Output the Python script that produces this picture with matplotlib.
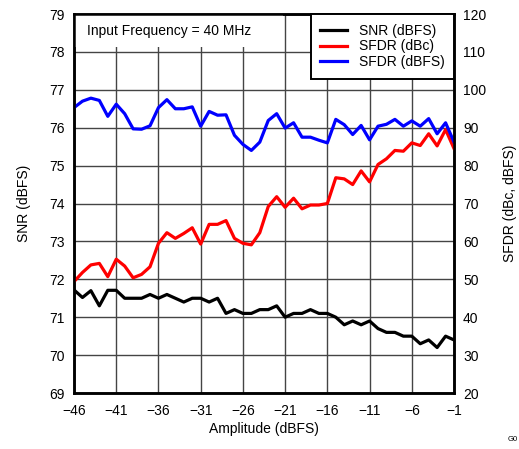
import matplotlib.pyplot as plt
from matplotlib.patches import Rectangle

plt.rcParams['font.family'] = ['Liberation Sans', 'DejaVu Sans']

amplitude = list(range(-46, 0))

snr_dbfs = [71.72, 71.52, 71.70, 71.3, 71.71, 71.71, 71.5, 71.5, 71.5, 71.6,
            71.5, 71.6, 71.5, 71.4, 71.5, 71.5, 71.4, 71.5, 71.1, 71.2,
            71.1, 71.1, 71.2, 71.2, 71.3, 71.0, 71.1, 71.1, 71.2, 71.1,
            71.1, 71.0, 70.8, 70.9, 70.8, 70.9, 70.7, 70.6, 70.6, 70.5,
            70.5, 70.3, 70.4, 70.2, 70.5, 70.4]

sfdr_dbc = [49.4, 51.8, 53.8, 54.2, 50.7, 55.3, 53.5, 50.4, 51.3, 53.3,
            59.5, 62.3, 60.8, 62.1, 63.6, 59.3, 64.5, 64.5, 65.5, 60.8,
            59.5, 59.1, 62.3, 69.2, 71.8, 69.0, 71.4, 68.6, 69.6, 69.6,
            70.0, 76.8, 76.5, 75.0, 78.6, 75.7, 80.3, 81.8, 84.0, 83.8,
            86.0, 85.3, 88.4, 85.2, 89.5, 84.5]

sfdr_dbfs = [95.3, 97.0, 97.8, 97.2, 93.0, 96.2, 93.7, 89.7, 89.6, 90.5,
             95.3, 97.4, 95.0, 95.0, 95.5, 90.4, 94.3, 93.3, 93.4, 88.0,
             85.6, 84.0, 86.2, 91.9, 93.7, 89.9, 91.3, 87.5, 87.5, 86.7,
             86.0, 92.2, 90.8, 88.2, 90.6, 86.8, 90.4, 90.9, 92.2, 90.4,
             91.8, 90.4, 92.4, 88.4, 91.3, 86.2]

x_ticks = list(range(-46, 0, 5))
x_tick_labels = [str(t).replace('-', '\u2212') for t in x_ticks]

fs = 10

fig = plt.figure(figsize=(5.19, 4.49), dpi=100)
ax = fig.add_axes([0.1426, 0.1247, 0.7322, 0.8441])
ax2 = ax.twinx()

ax.set_xlim(-46, -1)
ax.set_ylim(69, 79)
ax2.set_ylim(20, 120)
ax.set_xticks(x_ticks)
ax.set_xticklabels(x_tick_labels)
ax.set_yticks(range(69, 80))
ax2.set_yticks(range(20, 121, 10))

ax.grid(True, color='#444444', linewidth=1.0)
ax.set_axisbelow(True)

l1, = ax.plot(amplitude, snr_dbfs, color='black', lw=2.3, label='SNR (dBFS)')
l2, = ax2.plot(amplitude, sfdr_dbc, color='#ff0000', lw=2.3, label='SFDR (dBc)')
l3, = ax2.plot(amplitude, sfdr_dbfs, color='#0000ff', lw=2.3, label='SFDR (dBFS)')

for a in (ax, ax2):
    for s in a.spines.values():
        s.set_linewidth(1.8)
    a.tick_params(length=0, labelsize=fs, pad=6.5)
ax.tick_params(axis='x', pad=8)

ax.set_xlabel('Amplitude (dBFS)', fontsize=fs, labelpad=3)
ax.set_ylabel('SNR (dBFS)', fontsize=fs, labelpad=13)
ax2.set_ylabel('SFDR (dBc, dBFS)', fontsize=fs, labelpad=12)

leg = ax2.legend(handles=[l1, l2, l3], loc='upper right', fontsize=fs,
                 fancybox=False, framealpha=1, edgecolor='black',
                 borderaxespad=0, handlelength=1.95, handletextpad=0.8,
                 labelspacing=0.12, borderpad=0.7)
leg.get_frame().set_linewidth(1.4)

# white patch behind the annotation (hides the grid there)
ax2.add_patch(Rectangle((0, 0.913), 0.55, 0.087, transform=ax2.transAxes,
                        facecolor='white', edgecolor='none', zorder=2.1))
ax2.text(-44.45, 115.5, 'Input Frequency = 40 MHz', fontsize=fs,
         va='center', zorder=2.2)

fig.text(0.979, 0.018, 'G0', fontsize=5.5)

plt.savefig('out.png', dpi=100)
